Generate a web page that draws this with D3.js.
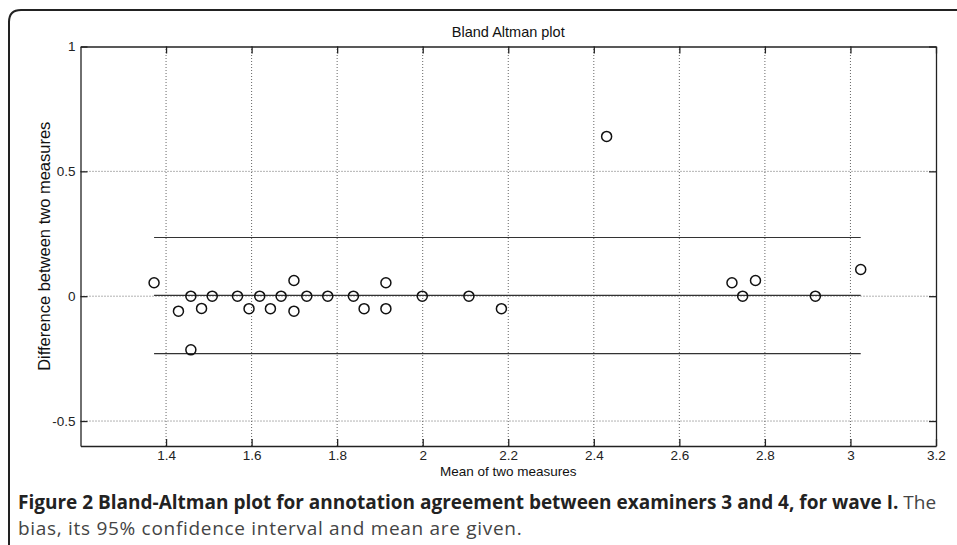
<!DOCTYPE html>
<html>
<head>
<meta charset="utf-8">
<script src="https://cdn.jsdelivr.net/npm/d3@7"></script>
<style>
  body { margin: 0; background: #fff; }
  svg { display: block; }
</style>
</head>
<body>
<svg id="chart" width="957" height="545"></svg>
<script>
// mean of two measures (x) and their difference (y)
const meanVals = [1.372, 1.429, 1.458, 1.458, 1.483, 1.508, 1.567, 1.594, 1.619, 1.644, 1.669, 1.699, 1.699,
                  1.729, 1.778, 1.838, 1.863, 1.914, 1.914, 1.999, 2.108, 2.184, 2.43, 2.723, 2.748, 2.778, 2.918, 3.024]
const diffVals = [0.054, -0.06, 0, -0.215, -0.049, 0, 0, -0.05, 0, -0.05, 0, 0.063, -0.06,
                  0, 0, 0, -0.05, 0.054, -0.05, 0, 0, -0.05, 0.64, 0.054, 0, 0.063, 0, 0.107]
const biasVal = 0.003
const limitVals = [0.235, -0.23]
const xTicks = [1.4, 1.6, 1.8, 2, 2.2, 2.4, 2.6, 2.8, 3, 3.2]
const yTicks = [-0.5, 0, 0.5, 1]

const svg = d3.select('#chart')
const margins = { left: 80.5, top: 46.5, right: 21, bottom: 99 }
const W = 957, H = 545
const matFont = 'Liberation Sans, Arial, sans-serif'

// outer figure frame (rounded corner at top left, runs off page)
svg.append('path')
    .attr('d', 'M9,560 L9,22 Q9,10 21,10 L970,10')
    .attr('fill', 'none').attr('stroke', '#222').attr('stroke-width', 2)

const x = d3.scaleLinear().domain([1.2, 3.2]).range([margins.left, W - margins.right])
const y = d3.scaleLinear().domain([-0.6, 1]).range([H - margins.bottom, margins.top])

const g = svg.append('g')
const [x0, x1] = x.range(), [y0, y1] = y.range()

// grid
g.selectAll('line.gx').data(xTicks.filter(d => d < 3.2)).enter().append('line')
    .attr('x1', d => x(d)).attr('x2', d => x(d)).attr('y1', y0).attr('y2', y1)
    .attr('stroke', '#666').attr('stroke-width', 1).attr('stroke-dasharray', '1,2')
g.selectAll('line.gy').data(yTicks.filter(d => d < 1)).enter().append('line')
    .attr('x1', x0).attr('x2', x1).attr('y1', d => y(d)).attr('y2', d => y(d))
    .attr('stroke', '#666').attr('stroke-width', 1).attr('stroke-dasharray', '1,2')

// bias and limits of agreement
const xmin = d3.min(meanVals), xmax = d3.max(meanVals)
g.selectAll('line.lim').data([biasVal, ...limitVals]).enter().append('line')
    .attr('x1', x(xmin)).attr('x2', x(xmax)).attr('y1', d => y(d)).attr('y2', d => y(d))
    .attr('stroke', '#333').attr('stroke-width', 1.2)

// axes (matlab style, ticks inside, box on)
const tick = 7
const fmt = d => String(d)
const xAx = d3.axisBottom(x).tickValues(xTicks).tickSizeInner(-tick).tickSizeOuter(0).tickPadding(4).tickFormat(fmt)
const yAx = d3.axisLeft(y).tickValues(yTicks).tickSizeInner(-tick).tickSizeOuter(0).tickPadding(5).tickFormat(fmt)
const xAxisG = g.append('g').attr('transform', `translate(0,${y0})`).call(xAx)
const yAxisG = g.append('g').attr('transform', `translate(${x0},0)`).call(yAx)
g.append('g').attr('transform', `translate(0,${y1})`)
    .call(d3.axisTop(x).tickValues(xTicks).tickSizeInner(-tick).tickSizeOuter(0).tickFormat(''))
g.append('g').attr('transform', `translate(${x1},0)`)
    .call(d3.axisRight(y).tickValues(yTicks).tickSizeInner(-tick).tickSizeOuter(0).tickFormat(''))
g.selectAll('.domain').attr('stroke', '#222').attr('stroke-width', 1.3)
g.selectAll('.tick line').attr('stroke', '#222').attr('stroke-width', 1.3)
g.selectAll('.tick text').attr('font-family', matFont).attr('font-size', 13.5).attr('fill', '#222')

// points
g.selectAll('circle.pt').data(meanVals).enter().append('circle')
    .attr('cx', d => x(d)).attr('cy', (d, i) => y(diffVals[i])).attr('r', 5)
    .attr('fill', 'none').attr('stroke', '#111').attr('stroke-width', 1.5)

// labels
const addText = (txt, attrs) => {
    const t = svg.append('text').text(txt)
    Object.entries({ 'font-family': matFont, fill: '#111', ...attrs }).forEach(([k, v]) => t.attr(k, v))
    return t
}
addText('Bland Altman plot', { x: (x0 + x1) / 2, y: 37, 'text-anchor': 'middle', 'font-size': 14.5 })
addText('Mean of two measures', { x: (x0 + x1) / 2, y: 476, 'text-anchor': 'middle', 'font-size': 13.5 })
addText('Difference between two measures', { transform: `translate(50,${(y0 + y1) / 2}) rotate(-90)`, 'text-anchor': 'middle', 'font-size': 16.5 })

// caption
const cap = svg.append('text').attr('x', 18).attr('y', 509)
    .attr('font-family', 'Open Sans, Noto Sans, sans-serif').attr('font-size', 19).attr('fill', '#222')
cap.append('tspan').attr('font-weight', 'bold').text('Figure 2 Bland-Altman plot for annotation agreement between examiners 3 and 4, for wave I.')
cap.append('tspan').attr('fill', '#444').text(' The')
svg.append('text').attr('x', 18).attr('y', 535)
    .attr('font-family', 'Open Sans, Noto Sans, sans-serif').attr('font-size', 19).attr('fill', '#444')
    .attr('letter-spacing', 0.7)
    .text('bias, its 95% confidence interval and mean are given.')
</script>
</body>
</html>
